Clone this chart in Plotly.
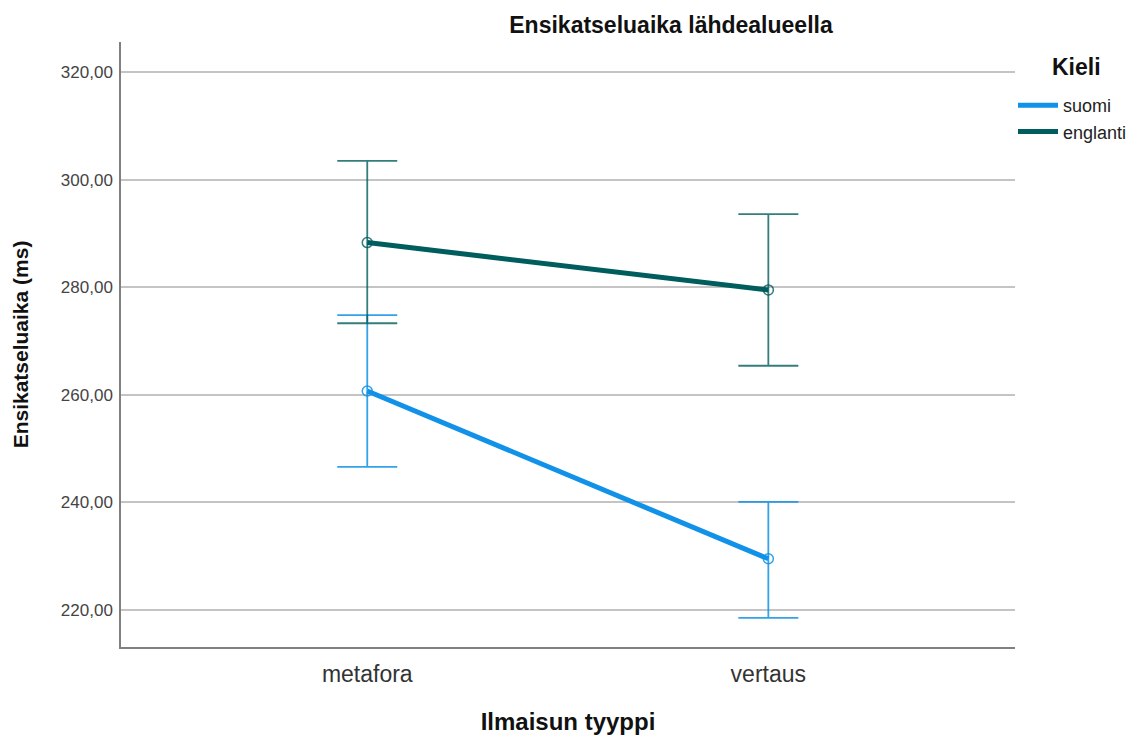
import plotly.graph_objects as go

categories = ["metafora", "vertaus"]
suomi_mean = [260.7, 229.5]
suomi_upper = [274.8, 240.1]
suomi_lower = [246.6, 218.5]
englanti_mean = [288.3, 279.5]
englanti_upper = [303.5, 293.6]
englanti_lower = [273.3, 265.4]
y_ticks = [220, 240, 260, 280, 300, 320]

series = [
    ("suomi", suomi_mean, suomi_upper, suomi_lower, "#1192e8", "rgba(17,146,232,0.85)"),
    ("englanti", englanti_mean, englanti_upper, englanti_lower, "#005d5d", "rgba(0,93,93,0.8)"),
]

FONT = "Liberation Sans, Arial, sans-serif"
fig = go.Figure()
xidx = list(range(len(categories)))
for name, m, up, lo, col, ecol in series:
    fig.add_trace(go.Scatter(
        x=xidx, y=m, mode="lines+markers", name=name, showlegend=False,
        line=dict(color=col, width=5),
        marker=dict(symbol="circle-open", size=10, color=ecol, line=dict(width=1.5)),
        error_y=dict(type="data", symmetric=False,
                     array=[u - v for u, v in zip(up, m)],
                     arrayminus=[v - l for v, l in zip(m, lo)],
                     color=ecol, thickness=1.8, width=30),
    ))
for name, m, up, lo, col, ecol in series:
    fig.add_trace(go.Scatter(x=[None], y=[None], mode="lines", name=name,
                             line=dict(color=col, width=5), showlegend=True))

W, H = 1130, 730
fig.update_layout(
    width=W, height=H,
    paper_bgcolor="white", plot_bgcolor="white",
    margin=dict(l=113, r=123, t=34, b=91, autoexpand=False),
    separators=", ",
    font=dict(family=FONT, color="#222"),
    title=dict(text="<b>Ensikatseluaika lähdealueella</b>", x=663 / W, xanchor="center",
               y=1 - 17 / H, yanchor="middle", font=dict(size=23, color="#111")),
    showlegend=True,
    legend=dict(x=1.0 - 2 / 894, xanchor="left", y=1 - (87 - 42) / 605, yanchor="top",
                font=dict(size=18, color="#222"), bgcolor="rgba(0,0,0,0)",
                itemwidth=40, tracegroupgap=0),
    annotations=[dict(text="<b>Kieli</b>", xref="paper", yref="paper",
                      x=(1076 - 121) / 894, y=1 - (67 - 42) / 605, xanchor="center",
                      yanchor="middle", showarrow=False,
                      font=dict(size=23, color="#111"))],
)
fig.update_xaxes(
    tickmode="array", tickvals=xidx, ticktext=categories,
    range=[-0.614, 1.615], showgrid=False, zeroline=False, automargin=False,
    showline=True, linecolor="#808080", linewidth=1.5, ticks="",
    tickfont=dict(size=23, color="#333"), ticklabelstandoff=6,
    title=dict(text="<b>Ilmaisun tyyppi</b>", font=dict(size=24, color="#111"), standoff=27),
)
fig.update_yaxes(
    range=[213.1, 325.6], tickvals=y_ticks, tickformat=".2f", automargin=False,
    showgrid=True, gridcolor="#c4c4c4", gridwidth=1.5, zeroline=False,
    showline=True, linecolor="#808080", linewidth=1.5, ticks="",
    tickfont=dict(size=17, color="#444"), ticklabelstandoff=3,
    title=dict(text="<b>Ensikatseluaika (ms)</b>", font=dict(size=21, color="#111"), standoff=26),
)

fig.write_html("out.html")
